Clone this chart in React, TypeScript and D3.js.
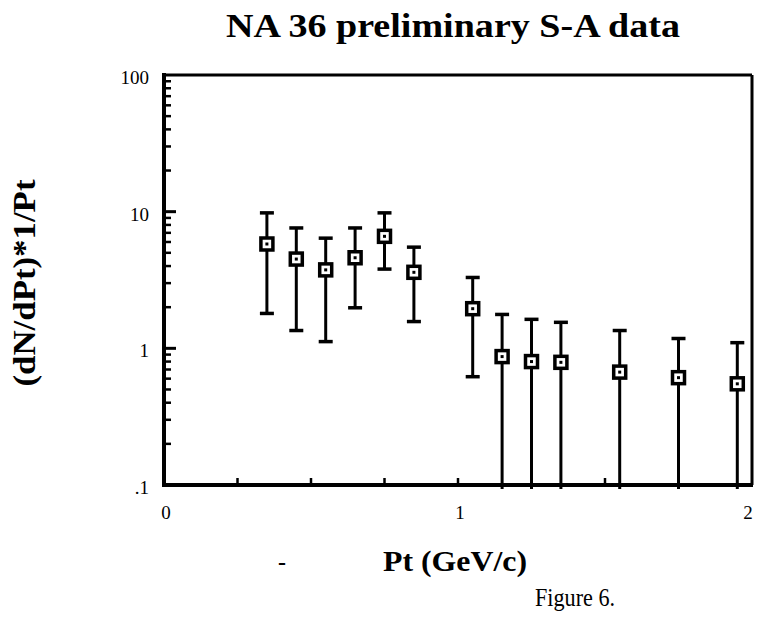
import React from "react";
import * as d3 from "d3";

const pt = [0.35, 0.45, 0.55, 0.65, 0.75, 0.85, 1.05, 1.15, 1.25, 1.35, 1.55, 1.75, 1.95];
const yVal = [5.8, 4.5, 3.75, 4.6, 6.6, 3.6, 1.95, 0.87, 0.8, 0.79, 0.67, 0.61, 0.55];
const yHi = [9.8, 7.6, 6.4, 7.6, 9.8, 5.5, 3.3, 1.77, 1.63, 1.55, 1.35, 1.18, 1.1];
const yLo = [1.8, 1.35, 1.12, 1.98, 3.8, 1.57, 0.62, 0.09, 0.09, 0.09, 0.09, 0.09, 0.09];
const yTicks = [100, 10, 1, 0.1];
const yTickLabels = ["100", "10", "1", ".1"];
const xTicks = [0, 1, 2];
const xMinor = [0.25, 0.5, 0.75, 1, 1.25, 1.5, 1.75];
const title = "NA 36 preliminary S-A data";
const xLabel = "Pt (GeV/c)";
const yLabel = "(dN/dPt)*1/Pt";
const caption = "Figure 6.";

export default function App() {
  const W = 757, H = 617;
  const L = 164, R = 752, T = 75, B = 485;
  const x = d3.scaleLinear().domain([0, 2]).range([L, R]);
  const y = d3.scaleLog().domain([0.1, 100]).range([B, T]);
  const serif = "'Liberation Serif', 'Times New Roman', serif";

  const minorY: number[] = [];
  [0.1, 1, 10].forEach((d) => {
    for (let k = 2; k <= 9; k++) minorY.push(d * k);
  });

  const cw = 7;
  const s = 6;
  return (
    <svg width={W} height={H} style={{ position: "absolute", left: 0, top: 0, background: "#fff" }}>
      <rect x={0} y={0} width={W} height={H} fill="#fff" />
      <text x={226} y={37} fontFamily={serif} fontWeight="bold" fontSize={34} textLength={454} lengthAdjust="spacingAndGlyphs">
        {title}
      </text>
      {/* frame */}
      <line x1={L} y1={T} x2={R} y2={T} stroke="#000" strokeWidth={3} />
      <line x1={R} y1={T} x2={R} y2={B} stroke="#000" strokeWidth={3} />
      <line x1={L} y1={T - 2} x2={L} y2={B + 2} stroke="#000" strokeWidth={4} />
      <line x1={L - 2} y1={B} x2={R + 1} y2={B} stroke="#000" strokeWidth={4} />
      {/* y ticks */}
      {yTicks.slice(1, 3).map((d) => (
        <line key={"ym" + d} x1={L} x2={L + 12} y1={y(d)} y2={y(d)} stroke="#000" strokeWidth={3} />
      ))}
      {minorY.map((d) => (
        <line key={"yn" + d} x1={L} x2={L + 7} y1={y(d)} y2={y(d)} stroke="#000" strokeWidth={2.5} />
      ))}
      {yTicks.map((d, i) => (
        <text key={"yl" + d} x={149} y={y(d) + 9} textAnchor="end" fontFamily={serif} fontSize={19}>
          {yTickLabels[i]}
        </text>
      ))}
      {/* x ticks */}
      {xMinor.map((d) => (
        <line key={"xn" + d} x1={x(d)} x2={x(d)} y1={B} y2={B - 7} stroke="#000" strokeWidth={2.5} />
      ))}
      {xTicks.map((d) => (
        <text key={"xl" + d} x={Math.min(x(d) + 2, W - 9)} y={519} textAnchor="middle" fontFamily={serif} fontSize={19}>
          {d}
        </text>
      ))}
      {/* data */}
      {pt.map((p, i) => {
        const cx = x(p);
        const hi = y(yHi[i]);
        const loClipped = yLo[i] < 0.1;
        const lo = loClipped ? B + 4 : y(yLo[i]);
        const cy = y(yVal[i]);
        return (
          <g key={"p" + i}>
            <line x1={cx} x2={cx} y1={hi} y2={lo} stroke="#000" strokeWidth={3} />
            <line x1={cx - cw} x2={cx + cw} y1={hi} y2={hi} stroke="#000" strokeWidth={3.5} />
            {!loClipped && (
              <line x1={cx - cw} x2={cx + cw} y1={lo} y2={lo} stroke="#000" strokeWidth={3.5} />
            )}
            <rect x={cx - s} y={cy - s} width={2 * s} height={2 * s} fill="#fff" stroke="#000" strokeWidth={3.5} />
            <rect x={cx - 1.5} y={cy - 1.5} width={3} height={3} fill="#000" />
          </g>
        );
      })}
      {/* axis labels */}
      <text
        transform={`translate(35, 283) rotate(-90)`}
        textAnchor="middle"
        fontFamily={serif}
        fontWeight="bold"
        fontSize={31}
        textLength={207}
        lengthAdjust="spacingAndGlyphs"
      >
        {yLabel}
      </text>
      <text x={282} y={570} textAnchor="middle" fontFamily={serif} fontWeight="bold" fontSize={24}>
        -
      </text>
      <text x={383} y={571} fontFamily={serif} fontWeight="bold" fontSize={29} textLength={144} lengthAdjust="spacingAndGlyphs">
        {xLabel}
      </text>
      <text x={535} y={606} fontFamily={serif} fontSize={26} textLength={80} lengthAdjust="spacingAndGlyphs">
        {caption}
      </text>
    </svg>
  );
}
